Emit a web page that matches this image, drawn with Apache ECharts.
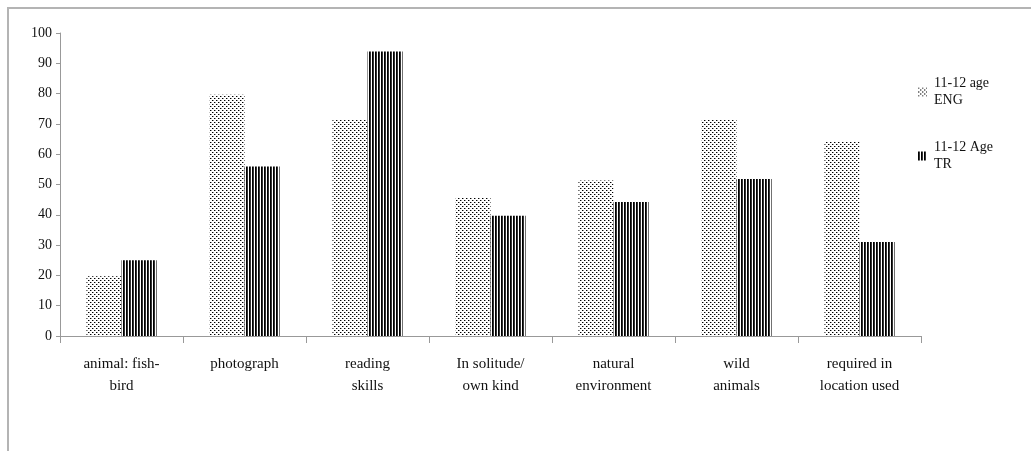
<!DOCTYPE html>
<html>
<head>
<meta charset="utf-8">
<script src="https://cdn.jsdelivr.net/npm/echarts@6/dist/echarts.min.js"></script>
<style>
html,body{margin:0;padding:0;background:#fff;}
#c{width:1031px;height:451px;}
</style>
</head>
<body>
<div id="c"></div>
<script>
var categories = ['animal: fish-\nbird', 'photograph', 'reading\nskills', 'In solitude/\nown kind', 'natural\nenvironment', 'wild\nanimals', 'required in\nlocation used'];
var seriesNames = ['11-12 age ENG', '11-12 Age TR'];
var engValues = [19.7, 79.6, 71.3, 45.8, 51.3, 71.3, 64.2];
var trValues = [25.0, 55.9, 93.9, 39.7, 44.2, 51.8, 31.0];
var yTicks = [0, 10, 20, 30, 40, 50, 60, 70, 80, 90, 100];

function dotPattern() {
  var c = document.createElement('canvas');
  c.width = 4; c.height = 4;
  var g = c.getContext('2d');
  g.fillStyle = '#fff'; g.fillRect(0, 0, 4, 4);
  g.fillStyle = '#000';
  g.fillRect(0, 0, 1, 1);
  g.fillRect(2, 2, 1, 1);
  g.fillStyle = '#999';
  g.fillRect(1, 0, 1, 1);
  g.fillRect(3, 2, 1, 1);
  return c;
}
function stripePattern() {
  var c = document.createElement('canvas');
  c.width = 3; c.height = 4;
  var g = c.getContext('2d');
  g.fillStyle = '#fff'; g.fillRect(0, 0, 3, 4);
  g.fillStyle = '#000'; g.fillRect(0, 0, 1, 4);
  g.fillStyle = '#333'; g.fillRect(1, 0, 1, 4);
  return c;
}
var font = '"Liberation Serif", "Times New Roman", serif';
var chart = echarts.init(document.getElementById('c'), null, {renderer: 'canvas'});
var legendNames = {};
legendNames[seriesNames[0]] = '11-12 age\nENG';
legendNames[seriesNames[1]] = '11-12 Age\nTR';
chart.setOption({
  animation: false,
  backgroundColor: '#fff',
  graphic: [{
    type: 'rect', silent: true,
    shape: {x: 8, y: 8, width: 1100, height: 600},
    style: {fill: 'none', stroke: '#b4b4b4', lineWidth: 2}
  }],
  grid: {left: 60, right: 110, top: 33, bottom: 115, containLabel: false},
  legend: {
    orient: 'vertical',
    left: 913, top: 70,
    itemWidth: 9, itemHeight: 9,
    itemGap: 30,
    icon: 'rect',
    formatter: function (n) { return legendNames[n]; },
    textStyle: {fontFamily: font, fontSize: 14, color: '#111', lineHeight: 17, padding: [0, 0, 0, 2]},
    data: seriesNames
  },
  xAxis: {
    type: 'category',
    data: categories,
    axisLine: {lineStyle: {color: '#999', width: 1}},
    axisTick: {show: true, length: 7, lineStyle: {color: '#999'}},
    axisLabel: {fontFamily: font, fontSize: 15, color: '#111', lineHeight: 22, margin: 17, interval: 0}
  },
  yAxis: {
    type: 'value',
    min: yTicks[0], max: yTicks[yTicks.length - 1], interval: 10,
    splitLine: {show: false},
    axisLine: {show: true, lineStyle: {color: '#999'}},
    axisTick: {show: true, length: 4, lineStyle: {color: '#999'}},
    axisLabel: {fontFamily: font, fontSize: 14, color: '#111', margin: 8}
  },
  series: [{
    name: seriesNames[0], type: 'bar', data: engValues,
    barGap: '0%', barCategoryGap: '43%',
    itemStyle: {color: {image: dotPattern(), repeat: 'repeat'}}
  }, {
    name: seriesNames[1], type: 'bar', data: trValues,
    barGap: '0%', barCategoryGap: '43%',
    itemStyle: {color: {image: stripePattern(), repeat: 'repeat'}}
  }]
});
</script>
</body>
</html>
